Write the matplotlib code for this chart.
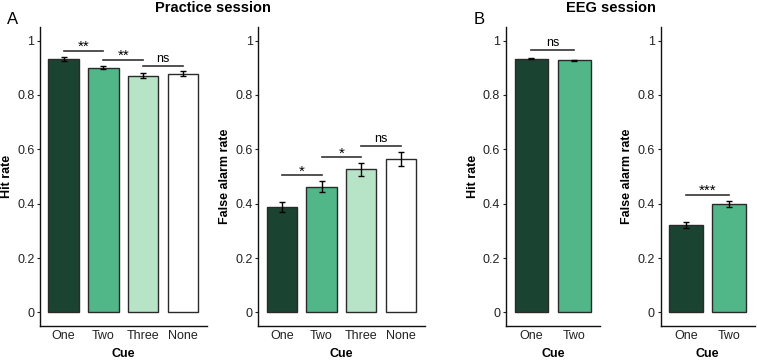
import numpy as np
import matplotlib
matplotlib.use('Agg')
import matplotlib.pyplot as plt

plt.rcParams['font.family'] = ['Liberation Sans', 'DejaVu Sans']

# data
cues_practice = ['One', 'Two', 'Three', 'None']
cues_eeg = ['One', 'Two']
hit_practice = [0.933, 0.901, 0.871, 0.878]
hit_practice_err = [0.007, 0.006, 0.008, 0.010]
fa_practice = [0.387, 0.462, 0.526, 0.564]
fa_practice_err = [0.019, 0.020, 0.023, 0.026]
hit_eeg = [0.934, 0.928]
hit_eeg_err = [0.002, 0.002]
fa_eeg = [0.321, 0.399]
fa_eeg_err = [0.010, 0.010]

# significance: (left bar, right bar, line height, label)
sig_hit_practice = [(0, 1, 0.963, '**'), (1, 2, 0.929, '**'), (2, 3, 0.908, 'ns')]
sig_fa_practice = [(0, 1, 0.504, '*'), (1, 2, 0.571, '*'), (2, 3, 0.613, 'ns')]
sig_hit_eeg = [(0, 1, 0.965, 'ns')]
sig_fa_eeg = [(0, 1, 0.432, '***')]

colors = ['#1b4332', '#52b788', '#b7e4c7', '#ffffff']

W, H = 757, 360
fig = plt.figure(figsize=(W / 100, H / 100), dpi=100)

def ax_at(left, right, top=27, bottom=326):
    return fig.add_axes([left / W, (H - bottom) / H, (right - left) / W, (bottom - top) / H])

def draw_panel(ax, cues, vals, errs, sigs, ylabel, width):
    x = np.arange(len(cues))
    ax.bar(x, vals, width=width, color=colors[:len(cues)], edgecolor='#2a2a2a', linewidth=1.0, zorder=2)
    ax.errorbar(x, vals, yerr=errs, fmt='none', ecolor='black', elinewidth=1.0, capsize=2, capthick=1.0, zorder=3)
    for a, b, h, lab in sigs:
        ax.plot([a, b], [h, h], color='#333333', lw=1.2, clip_on=False)
        fs = 9 if lab == 'ns' else 11
        dy = 0.003 if lab == 'ns' else -0.012
        ax.text((a + b) / 2, h + dy, lab, ha='center', va='bottom', fontsize=fs)
    ax.set_xlim(-0.59, len(cues) - 1 + 0.6)
    ax.set_ylim(-0.05, 1.05)
    ax.set_yticks([0, 0.2, 0.4, 0.6, 0.8, 1.0])
    ax.set_yticklabels(['0', '0.2', '0.4', '0.6', '0.8', '1'])
    ax.set_xticks(x)
    ax.set_xticklabels(cues)
    ax.tick_params(axis='y', length=2, width=0.8, labelsize=9, pad=2, colors='#222222')
    ax.tick_params(axis='x', length=0, labelsize=9, pad=3, colors='#222222')
    for s in ['top', 'right']:
        ax.spines[s].set_visible(False)
    for s in ['left', 'bottom']:
        ax.spines[s].set_linewidth(1.0)
        ax.spines[s].set_color('#111111')
    ax.set_ylabel(ylabel, fontsize=9, fontweight='bold', labelpad=3)
    ax.set_xlabel('Cue', fontsize=9, fontweight='bold', labelpad=4)

ax1 = ax_at(40, 207)
ax2 = ax_at(258.3, 425)
ax3 = ax_at(505.7, 600)
ax4 = ax_at(660.5, 755)

draw_panel(ax1, cues_practice, hit_practice, hit_practice_err, sig_hit_practice, 'Hit rate', 0.76)
draw_panel(ax2, cues_practice, fa_practice, fa_practice_err, sig_fa_practice, 'False alarm rate', 0.76)
draw_panel(ax3, cues_eeg, hit_eeg, hit_eeg_err, sig_hit_eeg, 'Hit rate', 0.77)
draw_panel(ax4, cues_eeg, fa_eeg, fa_eeg_err, sig_fa_eeg, 'False alarm rate', 0.77)

fig.text(213 / W, 1 - 8 / H, 'Practice session', ha='center', va='center', fontsize=10.5, fontweight='bold')
fig.text(611 / W, 1 - 8 / H, 'EEG session', ha='center', va='center', fontsize=10.5, fontweight='bold')
fig.text(13 / W, 1 - 19 / H, 'A', ha='center', va='center', fontsize=12)
fig.text(479 / W, 1 - 19 / H, 'B', ha='center', va='center', fontsize=12)

fig.savefig('out.png', dpi=100)
